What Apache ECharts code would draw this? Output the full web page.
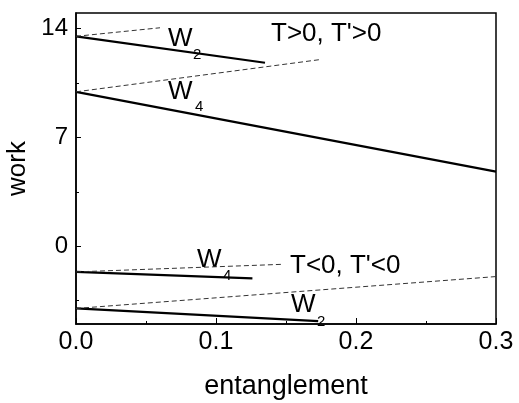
<!DOCTYPE html>
<html><head><meta charset="utf-8">
<script src="https://cdn.jsdelivr.net/npm/echarts@6/dist/echarts.min.js"></script>
<style>html,body{margin:0;padding:0;background:#fff}#c{width:519px;height:403px}</style>
</head><body><div id="c"></div>
<script>
// upper group (T>0, T'>0)
const w2UpSolid = [[0, 13.5], [0.135, 11.8]];
const w2UpDash = [[0, 13.5], [0.06, 14.05]];
const w4UpSolid = [[0, 9.93], [0.3, 4.8]];
const w4UpDash = [[0, 9.93], [0.174, 12.0]];
// lower group (T<0, T'<0)
const w4LoSolid = [[0, -1.65], [0.126, -2.06]];
const w4LoDash = [[0, -1.65], [0.148, -1.16]];
const w2LoSolid = [[0, -4.0], [0.173, -4.82]];
const w2LoDash = [[0, -4.0], [0.3, -1.95]];

const xMajor = [0, 0.1, 0.2, 0.3];
const xMinor = [0.05, 0.15, 0.25];
const yMajor = [0, 7, 14];
const yMinor = [-3.5, 3.5, 10.5];

const FONT = '"Liberation Sans", Arial, sans-serif';
const chart = echarts.init(document.getElementById('c'));

function solid(d) {
  return {type: 'line', data: d, symbol: 'none', silent: true,
    lineStyle: {color: '#000', width: 2.2}};
}
function dash(d) {
  return {type: 'line', data: d, symbol: 'none', silent: true,
    lineStyle: {color: '#333', width: 1, type: [5, 3]}};
}
function txt(left, cy, text, size) {
  return {type: 'text', left: left, top: cy - size / 2,
    style: {text: text, font: size + 'px ' + FONT, fill: '#000'}};
}

chart.setOption({
  animation: false,
  grid: {left: 76, top: 13, right: 23, bottom: 79, show: true, containLabel: false,
    outerBoundsMode: 'none',
    borderColor: '#000', borderWidth: 1.5, backgroundColor: 'transparent'},
  xAxis: [{
    type: 'value', min: 0, max: 0.3,
    name: 'entanglement', nameLocation: 'middle', nameGap: 49,
    nameTextStyle: {fontFamily: FONT, fontSize: 27, color: '#000'},
    axisLine: {show: true, onZero: false, lineStyle: {color: '#000', width: 1.5}},
    axisTick: {show: true, inside: true, length: 6, customValues: xMajor,
      lineStyle: {color: '#000', width: 1}},
    axisLabel: {customValues: xMajor, fontFamily: FONT, fontSize: 25, color: '#000', margin: 6,
      formatter: v => v.toFixed(1)},
    splitLine: {show: false}
  }, {
    type: 'value', min: 0, max: 0.3, position: 'bottom',
    axisLine: {show: false, onZero: false},
    axisTick: {show: true, inside: true, length: 3, customValues: xMinor,
      lineStyle: {color: '#000', width: 1}},
    axisLabel: {show: false}, splitLine: {show: false}
  }],
  yAxis: [{
    type: 'value', min: -5, max: 15,
    name: 'work', nameLocation: 'middle', nameGap: 44,
    nameTextStyle: {fontFamily: FONT, fontSize: 26, color: '#000'},
    axisLine: {show: true, onZero: false, lineStyle: {color: '#000', width: 1.5}},
    axisTick: {show: true, inside: true, length: 5, customValues: yMajor,
      lineStyle: {color: '#000', width: 1}},
    axisLabel: {customValues: yMajor, fontFamily: FONT, fontSize: 24, color: '#000', margin: 8},
    splitLine: {show: false}
  }, {
    type: 'value', min: -5, max: 15, position: 'left',
    axisLine: {show: false, onZero: false},
    axisTick: {show: true, inside: true, length: 3, customValues: yMinor,
      lineStyle: {color: '#000', width: 1}},
    axisLabel: {show: false}, splitLine: {show: false}
  }],
  series: [
    solid(w2UpSolid), dash(w2UpDash), solid(w4UpSolid), dash(w4UpDash),
    solid(w4LoSolid), dash(w4LoDash), solid(w2LoSolid), dash(w2LoDash)
  ],
  graphic: [
    txt(168, 39, 'W', 26), txt(193, 55, '2', 15),
    txt(168, 92, 'W', 26), txt(195, 107, '4', 15),
    txt(271, 34, "T>0, T'>0", 26),
    txt(197, 260, 'W', 26), txt(223, 276, '4', 15),
    txt(290, 266, "T<0, T'<0", 26),
    txt(291, 305, 'W', 26), txt(317, 322, '2', 15)
  ]
});
</script></body></html>
